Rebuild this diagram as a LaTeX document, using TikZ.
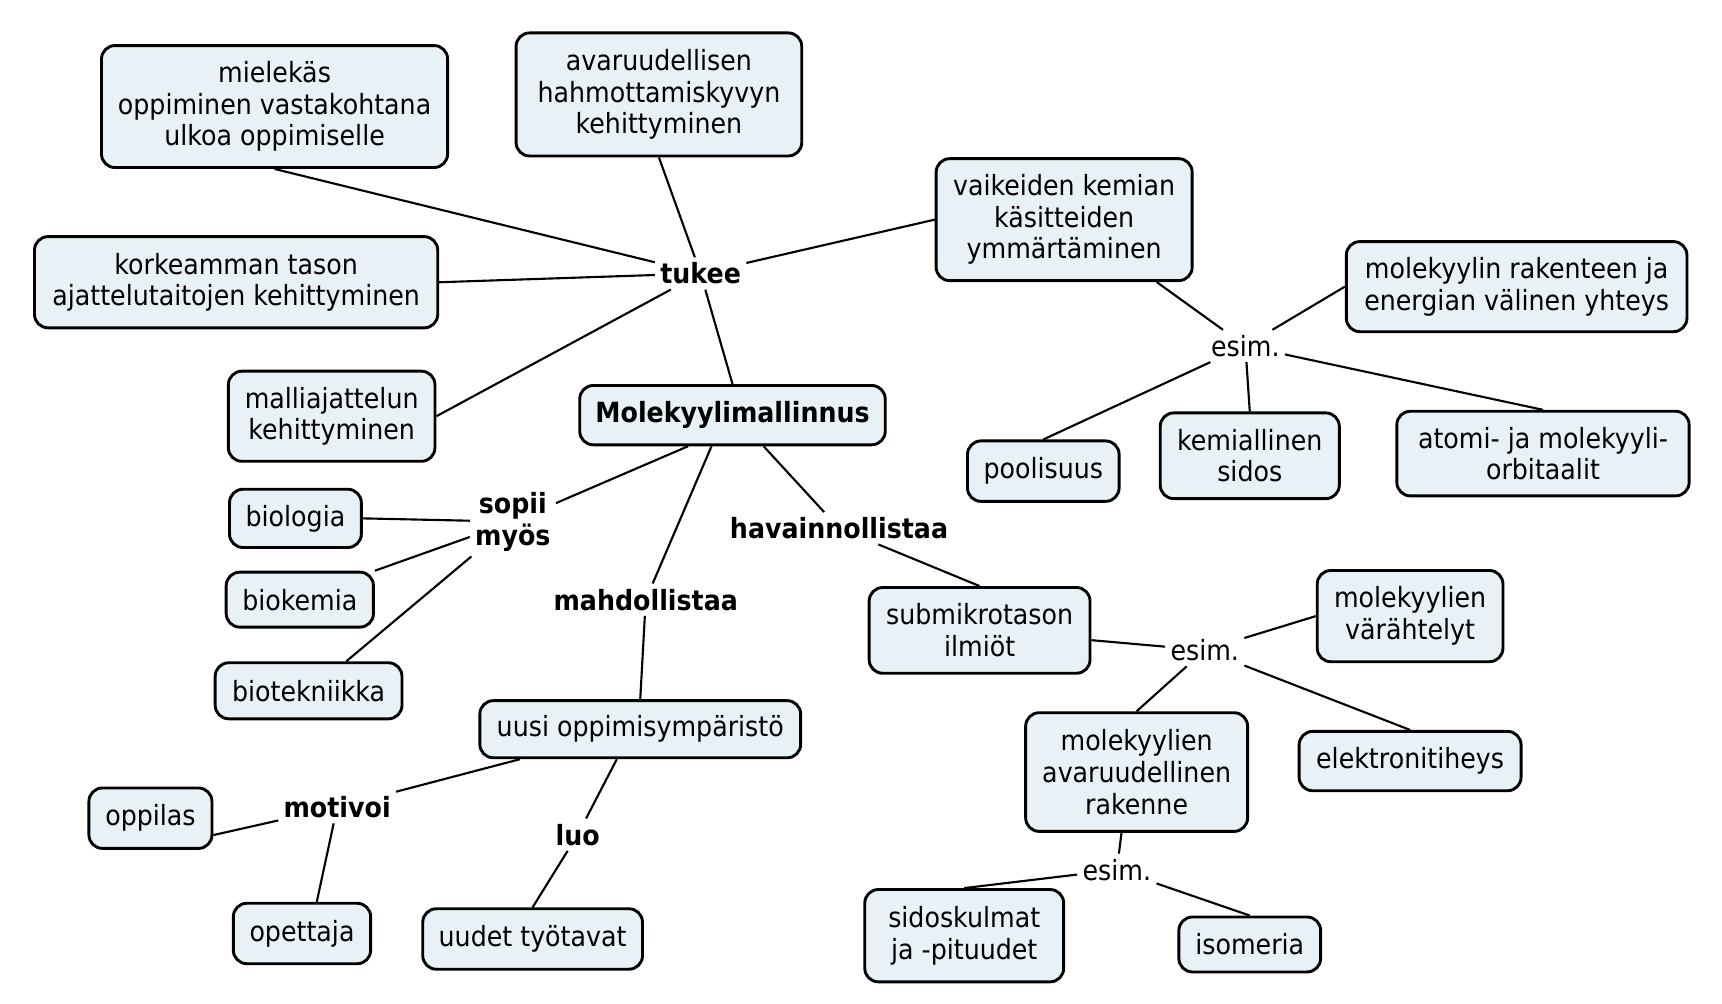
\documentclass[tikz,border=0pt]{standalone}
\usepackage{fontspec}
\setmainfont{DejaVu Sans}[FakeStretch=0.91]
\definecolor{boxfill}{RGB}{232,241,245}
\usetikzlibrary{positioning}

\begin{document}
\begin{tikzpicture}[
    x=0.01cm, y=-0.01cm,
    concept/.style={rectangle, rounded corners=3.5pt, draw=black, line width=0.75pt, fill=boxfill, align=center, inner sep=1pt, font=\fontsize{7.2}{8.2}\selectfont},
    phrase/.style={inner sep=1.2pt, align=center, font=\fontsize{7.2}{8.2}\selectfont\bfseries},
    eg/.style={inner sep=1.2pt, font=\fontsize{7.2}{8.2}\selectfont},
    conn/.style={line width=0.55pt}
]
    \useasboundingbox (0,0) rectangle (1568,914);

    \node[concept, minimum height=0.54cm, font=\fontsize{7.2}{8.2}\selectfont\bfseries, minimum width=2.78cm] (molek) at (667,378) {Molekyylimallinnus};

    \node[concept, minimum width=3.15cm, minimum height=1.11cm] (mielekas) at (250,97) {mielekäs\\oppiminen vastakohtana\\ulkoa oppimiselle};
    \node[concept, minimum width=2.6cm, minimum height=1.12cm] (hahmotus) at (600,86) {avaruudellisen\\hahmottamiskyvyn\\kehittyminen};
    \node[concept, minimum width=3.67cm, minimum height=0.83cm] (ajattelu) at (215,257) {korkeamman tason\\ajattelutaitojen kehittyminen};
    \node[concept, minimum width=1.88cm, minimum height=0.82cm] (malli) at (302,379) {malliajattelun\\kehittyminen};
    \node[concept, minimum width=2.33cm, minimum height=1.11cm] (kasitteet) at (969,200) {vaikeiden kemian\\käsitteiden\\ymmärtäminen};
    \node[concept, minimum width=3.1cm, minimum height=0.82cm] (energia) at (1381,261) {molekyylin rakenteen ja\\energian välinen yhteys};
    \node[concept, minimum width=1.38cm, minimum height=0.55cm] (poolisuus) at (950,429) {poolisuus};
    \node[concept, minimum width=1.63cm, minimum height=0.78cm] (sidos) at (1138,415) {kemiallinen\\sidos};
    \node[concept, minimum width=2.66cm, minimum height=0.77cm] (orbitaalit) at (1405,413) {atomi- ja molekyyli-\\orbitaalit};

    \node[concept, minimum width=1.2cm, minimum height=0.53cm] (biologia) at (269,472) {biologia};
    \node[concept, minimum width=1.34cm, minimum height=0.5cm] (biokemia) at (273,546) {biokemia};
    \node[concept, minimum width=1.7cm, minimum height=0.51cm] (biotek) at (281,629) {biotekniikka};

    \node[concept, minimum width=2.01cm, minimum height=0.78cm] (submikro) at (892,574) {submikrotason\\ilmiöt};
    \node[concept, minimum width=1.69cm, minimum height=0.83cm] (varahtely) at (1284,561) {molekyylien\\värähtelyt};
    \node[concept, minimum width=2.02cm, minimum height=0.54cm] (elektroni) at (1284,693) {elektronitiheys};
    \node[concept, minimum width=2.02cm, minimum height=1.08cm] (rakenne) at (1035,703) {molekyylien\\avaruudellinen\\rakenne};
    \node[concept, minimum width=1.81cm, minimum height=0.84cm] (kulmat) at (878,852) {sidoskulmat\\ja -pituudet};
    \node[concept, minimum width=1.29cm, minimum height=0.5cm] (isomeria) at (1138,860) {isomeria};

    \node[concept, minimum width=2.92cm, minimum height=0.52cm] (ymparisto) at (583,664) {uusi oppimisympäristö};
    \node[concept, minimum width=1.12cm, minimum height=0.55cm] (oppilas) at (137,745) {oppilas};
    \node[concept, minimum width=1.25cm, minimum height=0.55cm] (opettaja) at (275,850) {opettaja};
    \node[concept, minimum width=2cm, minimum height=0.55cm] (tyotavat) at (485,855) {uudet työtavat};

    \node[phrase] (tukee) at (638,249) {tukee};
    \node[phrase] (sopii) at (467,475) {sopii\\myös};
    \node[phrase] (havainn) at (764,481) {havainnollistaa};
    \node[phrase] (mahdoll) at (588,546) {mahdollistaa};
    \node[phrase] (motivoi) at (307,735) {motivoi};
    \node[phrase] (luo) at (526,760) {luo};
    \node[eg] (esimA) at (1134,315) {esim.};
    \node[eg] (esimB) at (1097,592) {esim.};
    \node[eg] (esimC) at (1017,792) {esim.};

    \draw[conn] (mielekas.south) -- (tukee);
    \draw[conn] (hahmotus.south) -- (tukee);
    \draw[conn] (ajattelu.east) -- (tukee);
    \draw[conn] (malli.east) -- (tukee);
    \draw[conn] (kasitteet.west) -- (tukee);
    \draw[conn] (tukee) -- (molek.north);

    \draw[conn] (kasitteet.-34) -- (esimA);
    \draw[conn] (esimA) -- (energia.west);
    \draw[conn] (esimA) -- (poolisuus.north);
    \draw[conn] (esimA) -- (sidos.north);
    \draw[conn] (esimA) -- (orbitaalit.north);

    \draw[conn] (molek.215) -- (sopii);
    \draw[conn] (sopii) -- (biologia.east);
    \draw[conn] (sopii) -- (biokemia.north east);
    \draw[conn] (sopii) -- (biotek.38);

    \draw[conn] (molek.236) -- (mahdoll);
    \draw[conn] (mahdoll) -- (ymparisto.north);
    \draw[conn] (ymparisto.194) -- (motivoi);
    \draw[conn] (motivoi) -- (oppilas.-15);
    \draw[conn] (motivoi) -- (opettaja.65);
    \draw[conn] (ymparisto.232) -- (luo);
    \draw[conn] (luo) -- (tyotavat.north);

    \draw[conn] (molek.-45) -- (havainn);
    \draw[conn] (havainn) -- (submikro.north);
    \draw[conn] (submikro.-5) -- (esimB);
    \draw[conn] (esimB) -- (varahtely.west);
    \draw[conn] (esimB) -- (elektroni.north);
    \draw[conn] (esimB) -- (rakenne.north);
    \draw[conn] (rakenne.256) -- (esimC);
    \draw[conn] (esimC) -- (kulmat.north);
    \draw[conn] (esimC) -- (isomeria.north);
\end{tikzpicture}
\end{document}
